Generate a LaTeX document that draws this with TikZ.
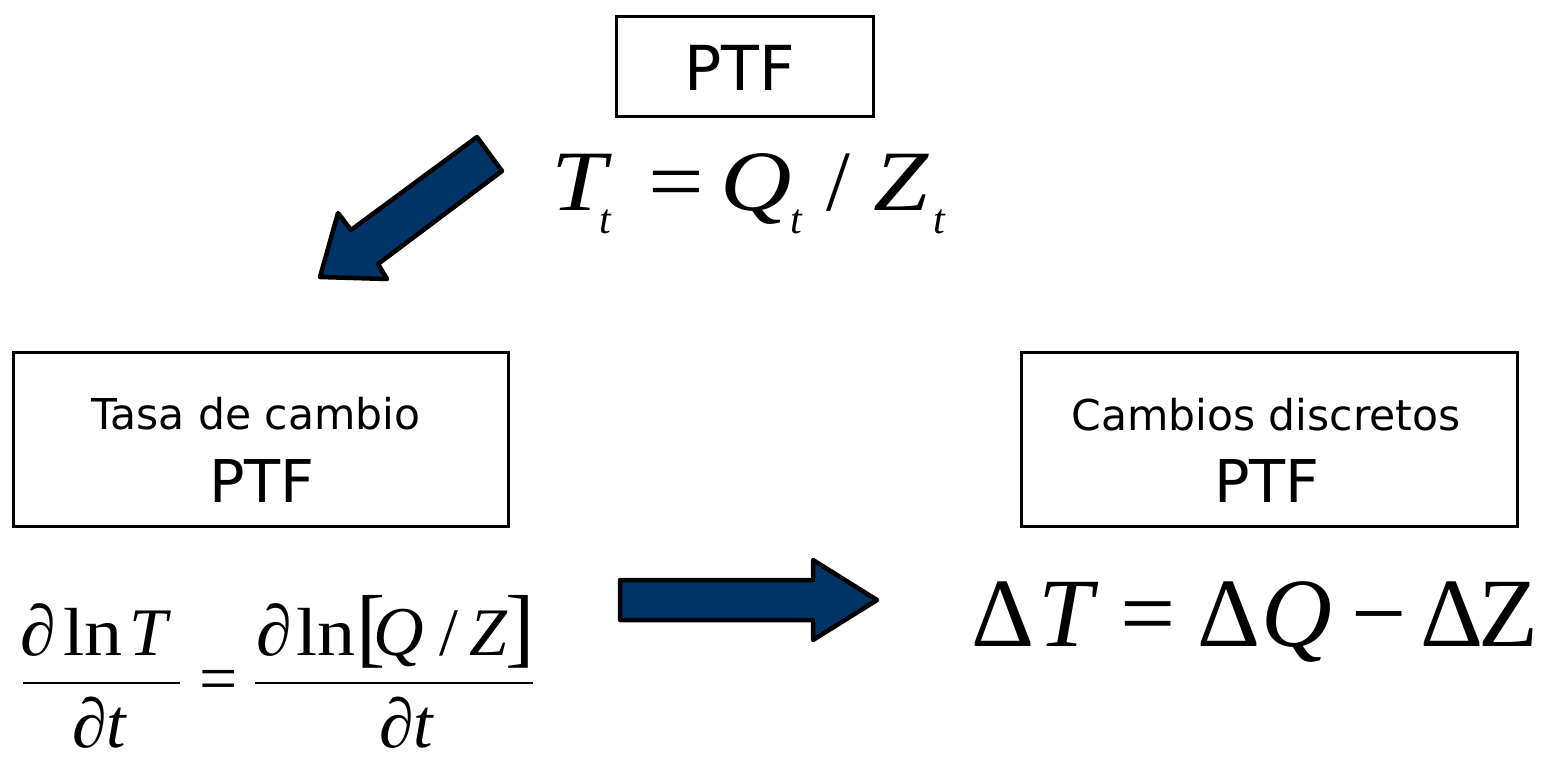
\documentclass[tikz,border=0pt]{standalone}
\usepackage{fontspec}
\newfontfamily\sansf{DejaVu Sans}
\newfontfamily\tms{Liberation Serif}
\newcommand\fsz[1]{\fontsize{#1}{#1}\selectfont}
\newcommand\wid[1]{\scalebox{1.15}[1]{#1}}
\definecolor{navy}{RGB}{0,51,102}
\tikzset{
  box/.style={draw, line width=3pt, inner sep=0},
  lbl/.style={anchor=base, inner sep=0, font=\sansf\fsz{42.5}},
  ptf/.style={anchor=base, inner sep=0, font=\sansf\fsz{59}},
  ptftop/.style={anchor=base, inner sep=0, font=\sansf\fsz{62}},
  blk/.style={draw=black, fill=navy, line width=4.5pt, line join=round},
  m/.style={anchor=base, inner sep=0},
  rm/.style={m, font=\tms\fsz{#1}},
  it/.style={m, font=\tms\itshape\fsz{#1}},
  frule/.style={line width=2.6pt},
}
\begin{document}
\begin{tikzpicture}[x=1pt,y=-1pt]
\useasboundingbox (0,0) rectangle (1548,756);
% boxes
\node[box, minimum width=257pt, minimum height=100pt] (topbox) at (745,66) {};
\node[box, minimum width=495pt, minimum height=174pt] (lbox) at (260.5,439) {};
\node[box, minimum width=496pt, minimum height=174pt] (rbox) at (1269,439) {};
\node[ptftop] (topptf) at (740,90) {PTF};
\node[lbl] (ltitle) at (256,429) {Tasa de cambio};
\node[ptf] (lptf) at (262,502) {PTF};
\node[lbl] (rtitle) at (1266,430) {Cambios discretos};
\node[ptf] (rptf) at (1267,502) {PTF};
% arrows
\draw[blk] (477,137) -- (502,171) -- (378,264) -- (387,279) -- (320,277) -- (338,213) -- (351,230) -- cycle;
\draw[blk] (620,580) -- (813,580) -- (813,560) -- (877,600) -- (813,640) -- (813,620) -- (620,620) -- cycle;
% T_t = Q_t / Z_t
\node[it=86] (e1T) at (579,210) {\wid{T}};
\node[it=42] (e1Tt) at (605,233) {t};
\node[rm=86] (e1eq) at (676,210) {\wid{=}};
\node[it=86] (e1Q) at (756,210) {\wid{Q}};
\node[it=42] (e1Qt) at (796,233) {t};
\node[rm=86] (e1sl) at (838,210) {/};
\node[it=86] (e1Z) at (901,210) {\wid{Z}};
\node[it=42] (e1Zt) at (939,233) {t};
% fraction equation
\node[rm=72] (n1d) at (38.5,655) {∂};
\node[rm=68] (n1ln) at (93,655) {\scalebox{1.12}[1]{ln}};
\node[it=68] (n1T) at (148,655) {T};
\draw[frule] (23,683) -- (180,683);
\node[rm=70] (d1) at (100,747) {∂\textit{t}};
\node[rm=68] (eq2) at (219,701) {=};
\node[rm=72] (n2d) at (274.5,655) {∂};
\node[rm=68] (n2ln) at (326,655) {\scalebox{1.12}[1]{ln}};
\node[rm=88] (n2lb) at (371.5,656) {[};
\node[it=70] (n2Q) at (399,655) {Q};
\node[rm=68] (n2sl) at (449,655) {/};
\node[it=68] (n2Z) at (488,655) {Z};
\node[rm=88] (n2rb) at (520,656) {]};
\draw[frule] (255,683) -- (533,683);
\node[rm=70] (d2) at (407,747) {∂\textit{t}};
% Delta equation
\node[rm=98] (e3D1) at (1002.5,646) {Δ};
\node[it=98] (e3T) at (1065.5,646) {T};
\node[rm=98] (e3eq) at (1148,646) {=};
\node[rm=98] (e3D2) at (1229,646) {Δ};
\node[it=98] (e3Q) at (1297,646) {Q};
\node[rm=98] (e3mi) at (1379,646) {−};
\node[rm=98] (e3D3) at (1452,646) {Δ};
\node[rm=98] (e3Z) at (1508,646) {Z};
\end{tikzpicture}
\end{document}
